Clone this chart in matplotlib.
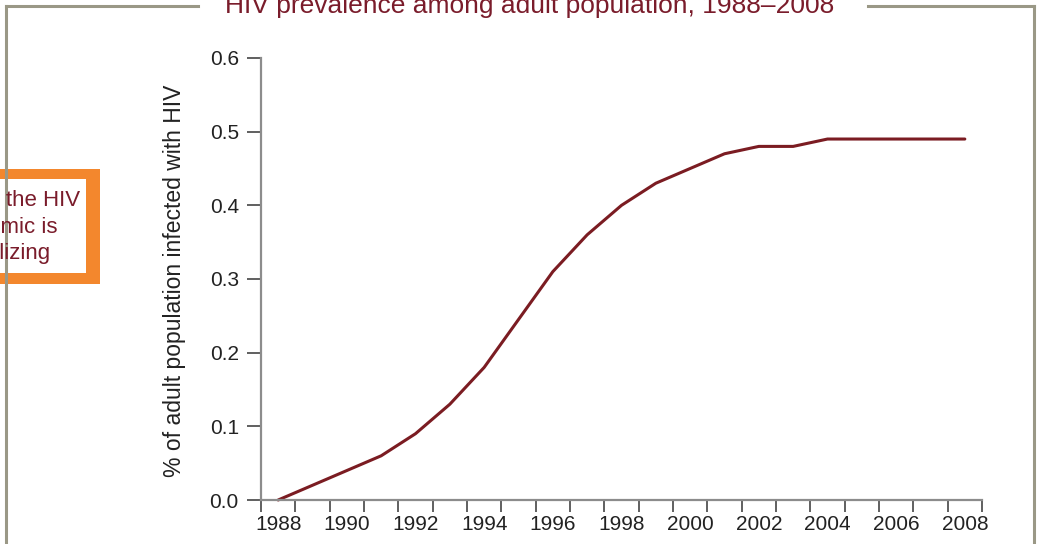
import numpy as np
import matplotlib
matplotlib.use('Agg')
import matplotlib.pyplot as plt
from matplotlib.lines import Line2D
from matplotlib.patches import Rectangle

plt.rcParams['font.family'] = ['Liberation Sans', 'DejaVu Sans']

# data
years = [1988, 1989, 1990, 1991, 1992, 1993, 1994, 1995, 1996, 1997, 1998,
         1999, 2000, 2001, 2002, 2003, 2004, 2005, 2006, 2007, 2008]
prevalence = [0.0, 0.02, 0.04, 0.06, 0.09, 0.13, 0.18, 0.245, 0.31, 0.36, 0.40,
              0.43, 0.45, 0.47, 0.48, 0.48, 0.49, 0.49, 0.49, 0.49, 0.49]
year_labels = [1988, 1990, 1992, 1994, 1996, 1998, 2000, 2002, 2004, 2006, 2008]
y_ticks = [0.0, 0.1, 0.2, 0.3, 0.4, 0.5, 0.6]

title = 'HIV prevalence among adult population, 1988\u20132008'
ylabel = '% of adult population infected with HIV'
note = 'Overall, the HIV\nepidemic is\nstabilizing'

maroon = '#7a1c2b'
frame_col = '#9a9886'
orange = '#f3872d'

W, H = 1039, 544
fig = plt.figure(figsize=(W / 100, H / 100), dpi=100)
fig.patch.set_facecolor('white')

def px(x, y):
    return x / W, 1 - y / H

# outer frame with a gap for the title
for xs, ys in [([6, 198], [5.5, 5.5]), ([868, 1034], [5.5, 5.5]),
               ([6, 6], [5.5, 560]), ([1034, 1034], [5.5, 560])]:
    fig.add_artist(Line2D([x / W for x in xs], [1 - y / H for y in ys],
                          color=frame_col, lw=2.2, solid_capstyle='projecting'))

fig.text(*px(530, 13), title, ha='center', va='baseline', fontsize=19, color=maroon)

# orange note box cut off at the left edge
x0, y0 = px(-20, 284)
fig.add_artist(Rectangle((x0, y0), 120 / W, (284 - 169) / H,
                         transform=fig.transFigure, facecolor=orange, edgecolor='none'))
x1, y1 = px(-20, 273)
fig.add_artist(Rectangle((x1, y1), 106 / W, (273 - 179) / H,
                         transform=fig.transFigure, facecolor='white', edgecolor='none'))
fig.text(*px(1.5, 227), note, ha='center', va='center', fontsize=16,
         color=maroon, linespacing=1.32, multialignment='center')

# plot area
l, b = 261 / W, 1 - 500 / H
ax = fig.add_axes([l, b, (982 - 261) / W, (500 - 58) / H])
ax.plot(years, prevalence, color='#7b1c22', lw=2.2, clip_on=False,
        solid_capstyle='round', solid_joinstyle='round')

ax.set_xlim(1987.5, 2008.5)
ax.set_ylim(0, 0.6)
ax.set_xticks(year_labels)
ax.set_xticklabels([str(y) for y in year_labels])
ax.set_xticks(np.arange(1987.5, 2009.0, 1.0), minor=True)
ax.set_yticks(y_ticks)
ax.set_yticklabels(['%.1f' % v for v in y_ticks])

for s in ['top', 'right']:
    ax.spines[s].set_visible(False)
for s in ['left', 'bottom']:
    ax.spines[s].set_color('#8c8c8c')
    ax.spines[s].set_linewidth(1.6)

ax.tick_params(axis='x', which='major', length=0, pad=10.5, labelsize=15, labelcolor='#222222')
ax.tick_params(axis='x', which='minor', length=8.5, width=1.2, color='#444444', direction='out')
ax.tick_params(axis='y', which='major', length=10, width=1.2, color='#444444', pad=6,
               labelsize=15, labelcolor='#222222')

fig.text(*px(175, 281), ylabel, rotation=90, ha='center', va='center',
         fontsize=16.5, color='#222222')

fig.savefig('out.png', dpi=100)
